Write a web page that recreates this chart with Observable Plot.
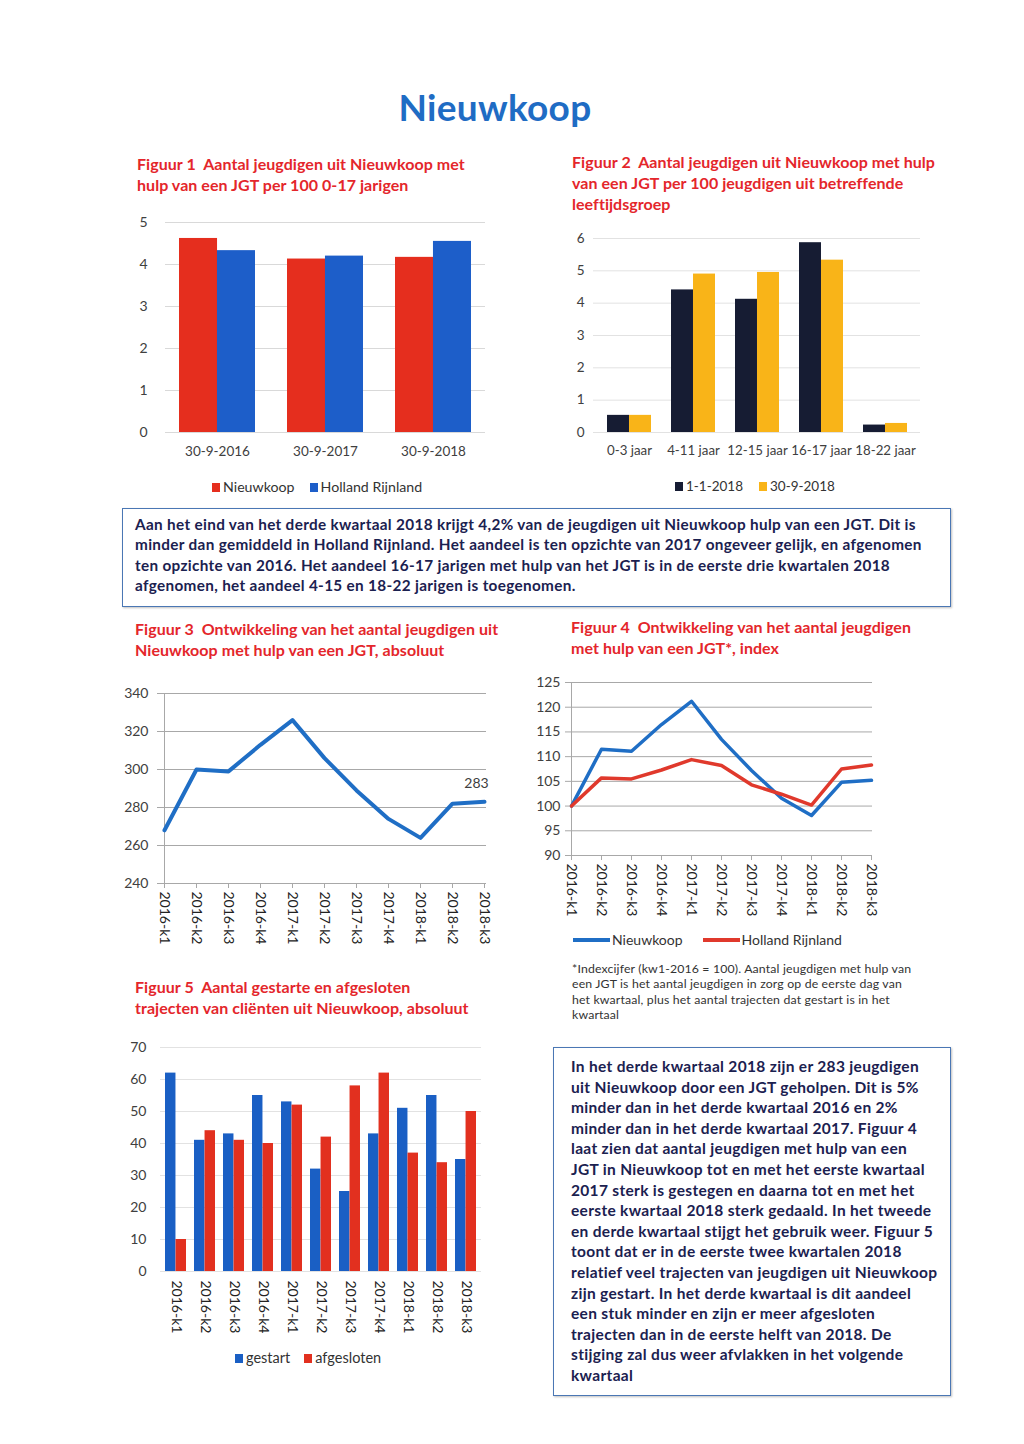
<!DOCTYPE html>
<html><head><meta charset="utf-8">
<script src="https://cdn.jsdelivr.net/npm/d3@7"></script>
<script src="https://cdn.jsdelivr.net/npm/@observablehq/plot@0.6"></script>
<style>
body{margin:0;background:#fff;font-family:Lato,"Open Sans",sans-serif;}
#page{position:relative;width:1024px;height:1444px;overflow:hidden;background:#fff;}
.abs{position:absolute;}
.maintitle{position:absolute;left:0;width:990px;top:85px;text-align:center;color:#1f6cc4;font-weight:bold;font-size:37px;line-height:44px;letter-spacing:0.3px;}
.ftitle{position:absolute;color:#e4262b;font-weight:bold;font-size:16px;line-height:21px;white-space:pre;letter-spacing:0.05px;}
.legend{position:absolute;font-size:13.5px;color:#333;white-space:nowrap;line-height:18px;}
.sw{display:inline-block;width:8px;height:9px;vertical-align:middle;margin-right:3px;position:relative;top:-1px;}
.ln{display:inline-block;width:37px;height:4px;vertical-align:middle;margin-right:2px;position:relative;top:-1px;}
.box{position:absolute;border:1.5px solid #4a77b4;box-shadow:1px 1px 2px rgba(0,0,0,0.25);color:#1b2150;font-weight:bold;white-space:pre;box-sizing:border-box;}
.note{position:absolute;font-size:12.3px;line-height:15.3px;color:#333;white-space:pre;letter-spacing:0.15px;}
</style></head>
<body><div id="page">
<div class="maintitle">Nieuwkoop</div>

<div class="ftitle" style="left:137px;top:153px;">Figuur 1  Aantal jeugdigen uit Nieuwkoop met
hulp van een JGT per 100 0-17 jarigen</div>
<div class="ftitle" style="left:572px;top:151px;">Figuur 2  Aantal jeugdigen uit Nieuwkoop met hulp
van een JGT per 100 jeugdigen uit betreffende
leeftijdsgroep</div>
<div class="ftitle" style="left:135px;top:618px;">Figuur 3  Ontwikkeling van het aantal jeugdigen uit
Nieuwkoop met hulp van een JGT, absoluut</div>
<div class="ftitle" style="left:571px;top:616px;">Figuur 4  Ontwikkeling van het aantal jeugdigen
met hulp van een JGT*, index</div>
<div class="ftitle" style="left:135px;top:976px;">Figuur 5  Aantal gestarte en afgesloten
trajecten van cliënten uit Nieuwkoop, absoluut</div>

<div id="fig1" class="abs" style="left:100px;top:205px;"></div>
<div id="fig2" class="abs" style="left:560px;top:225px;"></div>
<div id="fig3" class="abs" style="left:100px;top:680px;"></div>
<div id="fig4" class="abs" style="left:520px;top:670px;"></div>
<div id="fig5" class="abs" style="left:100px;top:1035px;"></div>

<div class="legend" style="left:212px;top:478px;font-size:14.2px;"><span class="sw" style="background:#e52e1e"></span>Nieuwkoop<span style="display:inline-block;width:15px"></span><span class="sw" style="background:#1d5ec9"></span>Holland Rijnland</div>
<div class="legend" style="left:675px;top:477px;"><span class="sw" style="background:#161c33"></span>1-1-2018<span style="display:inline-block;width:16px"></span><span class="sw" style="background:#f9b418"></span>30-9-2018</div>
<div class="legend" style="left:573px;top:931px;font-size:14px;"><span class="ln" style="background:#1f6ec5"></span>Nieuwkoop<span style="display:inline-block;width:20px"></span><span class="ln" style="background:#e0392c"></span>Holland Rijnland</div>
<div class="legend" style="left:235px;top:1349px;font-size:14.5px;"><span class="sw" style="background:#1a5fc4"></span>gestart<span style="display:inline-block;width:14px"></span><span class="sw" style="background:#e2301f"></span>afgesloten</div>

<div class="note" style="left:572px;top:961px;">*Indexcijfer (kw1-2016 = 100). Aantal jeugdigen met hulp van
een JGT is het aantal jeugdigen in zorg op de eerste dag van
het kwartaal, plus het aantal trajecten dat gestart is in het
kwartaal</div>

<div class="box" style="left:122px;top:508px;width:829px;height:99px;padding:5px 0 0 12px;font-size:15.3px;line-height:20.3px;letter-spacing:0.33px;">Aan het eind van het derde kwartaal 2018 krijgt 4,2% van de jeugdigen uit Nieuwkoop hulp van een JGT. Dit is
minder dan gemiddeld in Holland Rijnland. Het aandeel is ten opzichte van 2017 ongeveer gelijk, en afgenomen
ten opzichte van 2016. Het aandeel 16-17 jarigen met hulp van het JGT is in de eerste drie kwartalen 2018
afgenomen, het aandeel 4-15 en 18-22 jarigen is toegenomen.</div>

<div class="box" style="left:553px;top:1047px;width:398px;height:349px;padding:8px 0 0 17px;font-size:15.5px;line-height:20.6px;letter-spacing:0.32px;">In het derde kwartaal 2018 zijn er 283 jeugdigen
uit Nieuwkoop door een JGT geholpen. Dit is 5%
minder dan in het derde kwartaal 2016 en 2%
minder dan in het derde kwartaal 2017. Figuur 4
laat zien dat aantal jeugdigen met hulp van een
JGT in Nieuwkoop tot en met het eerste kwartaal
2017 sterk is gestegen en daarna tot en met het
eerste kwartaal 2018 sterk gedaald. In het tweede
en derde kwartaal stijgt het gebruik weer. Figuur 5
toont dat er in de eerste twee kwartalen 2018
relatief veel trajecten van jeugdigen uit Nieuwkoop
zijn gestart. In het derde kwartaal is dit aandeel
een stuk minder en zijn er meer afgesloten
trajecten dan in de eerste helft van 2018. De
stijging zal dus weer afvlakken in het volgende
kwartaal</div>
</div>
<script>
// ---- Data ----
const fig1Dates = ["30-9-2016", "30-9-2017", "30-9-2018"];
const fig1Nieuwkoop = [4.62, 4.13, 4.17];
const fig1Holland = [4.33, 4.20, 4.55];

const fig2Groups = ["0-3 jaar", "4-11 jaar", "12-15 jaar", "16-17 jaar", "18-22 jaar"];
const fig2Jan2018 = [0.53, 4.41, 4.12, 5.87, 0.23];
const fig2Sep2018 = [0.53, 4.90, 4.95, 5.33, 0.28];

const quarters = ["2016-k1", "2016-k2", "2016-k3", "2016-k4", "2017-k1", "2017-k2", "2017-k3", "2017-k4", "2018-k1", "2018-k2", "2018-k3"];
const fig3Absolute = [268, 300, 299, 313, 326, 306, 289, 274, 264, 282, 283];

const fig4Nieuwkoop = [100, 111.5, 111.1, 116.5, 121.2, 113.5, 107.2, 101.6, 98.1, 104.8, 105.2];
const fig4Holland = [100, 105.7, 105.5, 107.3, 109.4, 108.2, 104.3, 102.4, 100.2, 107.5, 108.3];

const fig5Gestart = [62, 41, 43, 55, 53, 32, 25, 43, 51, 55, 35];
const fig5Afgesloten = [10, 44, 41, 40, 52, 42, 58, 62, 37, 34, 50];

const FONT = "Lato, 'Open Sans', sans-serif";
const AX = "#404040";
const intFmt = d3.format("d");

// ---- Figure 1 ----
{
  const data = fig1Dates.map((d, i) => ({d, n: fig1Nieuwkoop[i], h: fig1Holland[i]}));
  const band = (400 - 65 - 15) / (3 - 0.3 + 0.25) * 0.7;
  const p = Plot.plot({
    width: 400, height: 265, marginTop: 17, marginBottom: 38, marginLeft: 65, marginRight: 15,
    style: {fontFamily: FONT, fontSize: "13.5px", color: AX, background: "transparent"},
    x: {domain: fig1Dates, paddingInner: 0.3, paddingOuter: 0.125, label: null},
    y: {domain: [0, 5], label: null},
    marks: [
      Plot.gridY([0, 1, 2, 3, 4, 5], {stroke: "#d9d9d9", strokeOpacity: 1}),
      Plot.barY(data, {x: "d", y: "n", fill: "#e52e1e", insetRight: band / 2}),
      Plot.barY(data, {x: "d", y: "h", fill: "#1d5ec9", insetLeft: band / 2}),
      Plot.axisY({ticks: [0, 1, 2, 3, 4, 5], tickFormat: intFmt, tickSize: 0, tickPadding: 18, fontSize: 14}),
      Plot.axisX({tickSize: 0, tickPadding: 14})
    ]
  });
  document.getElementById("fig1").append(p);
}

// ---- Figure 2 ----
{
  const data = fig2Groups.map((g, i) => ({g, a: fig2Jan2018[i], b: fig2Sep2018[i]}));
  const band = (380 - 33 - 20) / (5 - 0.32 + 0.37) * 0.68;
  const p = Plot.plot({
    width: 380, height: 245, marginTop: 13, marginBottom: 38, marginLeft: 33, marginRight: 20,
    style: {fontFamily: FONT, fontSize: "13.3px", color: AX, background: "transparent"},
    x: {domain: fig2Groups, paddingInner: 0.32, paddingOuter: 0.185, label: null},
    y: {domain: [0, 6], label: null},
    marks: [
      Plot.gridY([0, 1, 2, 3, 4, 5, 6], {stroke: "#e2e2e2", strokeOpacity: 1}),
      Plot.barY(data, {x: "g", y: "a", fill: "#161c33", insetRight: band / 2}),
      Plot.barY(data, {x: "g", y: "b", fill: "#f9b418", insetLeft: band / 2}),
      Plot.axisY({ticks: [0, 1, 2, 3, 4, 5, 6], tickFormat: intFmt, tickSize: 0, tickPadding: 9, fontSize: 13.5}),
      Plot.axisX({tickSize: 0, tickPadding: 13})
    ]
  });
  document.getElementById("fig2").append(p);
}

// ---- Figure 3 ----
{
  const data = quarters.map((q, i) => ({q, v: fig3Absolute[i]}));
  const last = [data[data.length - 1]];
  const p = Plot.plot({
    width: 400, height: 270, marginTop: 13, marginBottom: 67, marginLeft: 62, marginRight: 14,
    style: {fontFamily: FONT, fontSize: "14px", color: AX, background: "transparent"},
    x: {type: "point", domain: quarters, padding: 0, label: null},
    y: {domain: [240, 340], label: null},
    marks: [
      Plot.gridY([260, 280, 300, 320, 340], {stroke: "#a8a8a8", strokeOpacity: 1}),
      Plot.ruleY([240], {stroke: "#a8a8a8"}),
      Plot.ruleX([quarters[0]], {stroke: "#a8a8a8"}),
      Plot.lineY(data, {x: "q", y: "v", stroke: "#1f6ec5", strokeWidth: 4}),
      Plot.text(last, {x: "q", y: "v", text: d => String(d.v), dy: -18, dx: -8, fontSize: 14, fill: AX}),
      Plot.axisY({ticks: [240, 260, 280, 300, 320, 340], tickSize: 5, tickPadding: 9, stroke: "#a8a8a8"}),
      Plot.axisX({tickSize: 5, tickPadding: 3, tickRotate: 90, stroke: "#a8a8a8", fill: "#222"})
    ]
  });
  document.getElementById("fig3").append(p);
}

// ---- Figure 4 ----
{
  const data = quarters.flatMap((q, i) => [
    {q, v: fig4Nieuwkoop[i], s: "Nieuwkoop"},
    {q, v: fig4Holland[i], s: "Holland Rijnland"}
  ]);
  const p = Plot.plot({
    width: 380, height: 250, marginTop: 12, marginBottom: 65, marginLeft: 50, marginRight: 28,
    style: {fontFamily: FONT, fontSize: "14px", color: AX, background: "transparent"},
    x: {type: "point", domain: quarters, padding: 0, label: null},
    y: {domain: [90, 125], label: null},
    color: {domain: ["Nieuwkoop", "Holland Rijnland"], range: ["#1f6ec5", "#e0392c"]},
    marks: [
      Plot.gridY([95, 100, 105, 110, 115, 120, 125], {stroke: "#a8a8a8", strokeOpacity: 1}),
      Plot.ruleY([90], {stroke: "#a8a8a8"}),
      Plot.ruleX([quarters[0]], {stroke: "#a8a8a8"}),
      Plot.lineY(data, {x: "q", y: "v", z: "s", stroke: "s", strokeWidth: 3.5}),
      Plot.axisY({ticks: [90, 95, 100, 105, 110, 115, 120, 125], tickSize: 5, tickPadding: 5, stroke: "#a8a8a8"}),
      Plot.axisX({tickSize: 5, tickPadding: 3, tickRotate: 90, stroke: "#a8a8a8", fill: "#222"})
    ]
  });
  document.getElementById("fig4").append(p);
}

// ---- Figure 5 ----
{
  const data = quarters.map((q, i) => ({q, g: fig5Gestart[i], a: fig5Afgesloten[i]}));
  const band = (400 - 60 - 19) / (11 - 0.28 + 0.24) * 0.72;
  const p = Plot.plot({
    width: 400, height: 320, marginTop: 12, marginBottom: 84, marginLeft: 60, marginRight: 19,
    style: {fontFamily: FONT, fontSize: "14px", color: AX, background: "transparent"},
    x: {domain: quarters, paddingInner: 0.28, paddingOuter: 0.12, label: null},
    y: {domain: [0, 70], label: null},
    marks: [
      Plot.gridY([0, 10, 20, 30, 40, 50, 60, 70], {stroke: "#e2e2e2", strokeOpacity: 1}),
      Plot.barY(data, {x: "q", y: "g", fill: "#1a5fc4", insetRight: band / 2}),
      Plot.barY(data, {x: "q", y: "a", fill: "#e2301f", insetLeft: band / 2}),
      Plot.axisY({ticks: [0, 10, 20, 30, 40, 50, 60, 70], tickSize: 0, tickPadding: 14}),
      Plot.axisX({tickSize: 0, tickPadding: 9, tickRotate: 90, fill: "#222"})
    ]
  });
  document.getElementById("fig5").append(p);
}
</script>
</body></html>
